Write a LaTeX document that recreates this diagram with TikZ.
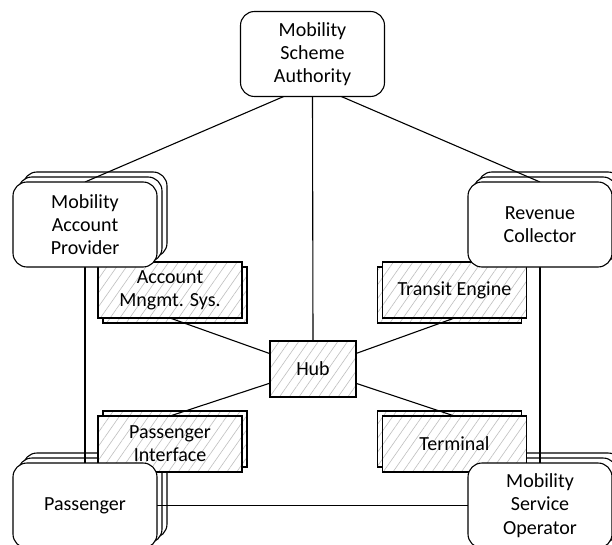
\documentclass[tikz,border=0pt]{standalone}
\usepackage{fontspec}
\setmainfont{Carlito}
\usetikzlibrary{calc,patterns.meta}
\pgfdeclarelayer{back}
\pgfdeclarelayer{links}
\pgfsetlayers{back,links,main}

\tikzset{
  actor/.style={draw, line width=1.1pt, rounded corners=14pt, fill=white,
    minimum width=144pt, minimum height=85pt, align=center, inner sep=0pt,
    outer sep=0pt, font=\fontsize{20}{23.3}\selectfont},
  system/.style={draw, line width=1.1pt, preaction={fill=white},
    pattern={Lines[angle=55,distance=8pt,line width=0.6pt]}, pattern color=black!25,
    minimum width=144pt, minimum height=56pt, align=center, inner sep=0pt,
    outer sep=0pt, font=\fontsize{20}{23.3}\selectfont},
  hubbox/.style={system, minimum width=86pt},
  link/.style={line width=1.1pt}
}

\begin{document}
\begin{tikzpicture}[x=1pt,y=-1pt]
\useasboundingbox (0,0) rectangle (612,545);

%Systems
\node (acct) at (170,290) [system] {Account\\Mngmt. Sys.};
\node (trn) at (454.5,290) [system] {Transit Engine};
\node (pif) at (170,444) [system] {Passenger\\Interface};
\node (term) at (454.5,444) [system] {Terminal};
\node (hub) at (313,369) [hubbox] {Hub};

%Actors
\node (msa) at (312.5,54) [actor] {Mobility\\Scheme\\Authority};
\node (map) at (85,224.5) [actor] {Mobility\\Account\\Provider};
\node (rc) at (540,224.5) [actor] {Revenue\\Collector};
\node (pas) at (85,505.5) [actor] {Passenger};
\node (mso) at (540,505.5) [actor] {Mobility\\Service\\Operator};

%Copies
\begin{pgfonlayer}{back}
\foreach \n in {map,rc,pas,mso}
  \foreach \k in {2,1}
    \draw [actor] ($(\n.south west)+(\k*5pt,\k*5pt)$) rectangle ($(\n.north east)+(\k*5pt,\k*5pt)$);
\draw [system] ($(acct.south west)+(5pt,-5pt)$) rectangle ($(acct.north east)+(5pt,-5pt)$);
\draw [system] ($(trn.south west)+(-5pt,-5pt)$) rectangle ($(trn.north east)+(-5pt,-5pt)$);
\draw [system] ($(pif.south west)+(5pt,5pt)$) rectangle ($(pif.north east)+(5pt,5pt)$);
\draw [system] ($(term.south west)+(-5pt,5pt)$) rectangle ($(term.north east)+(-5pt,5pt)$);
\end{pgfonlayer}

%Links
\begin{pgfonlayer}{links}
\draw [link] ($(msa.south west)!0.3!(msa.south east)$) -- (map.north);
\draw [link] ($(msa.south west)!0.7!(msa.south east)$) -- (rc.north);
\draw [link] (msa.south) -- (hub.north);
\draw [link] (map.south) -- (pas.north);
\draw [link] (rc.south) -- (mso.north);
\draw [link] (pas.east) -- (mso.west);
%Hub
\draw [link] (acct.south) -- (hub.center);
\draw [link] (trn.south) -- (hub.center);
\draw [link] (pif.north) -- (hub.center);
\draw [link] (term.north) -- (hub.center);
\end{pgfonlayer}

\end{tikzpicture}
\end{document}
